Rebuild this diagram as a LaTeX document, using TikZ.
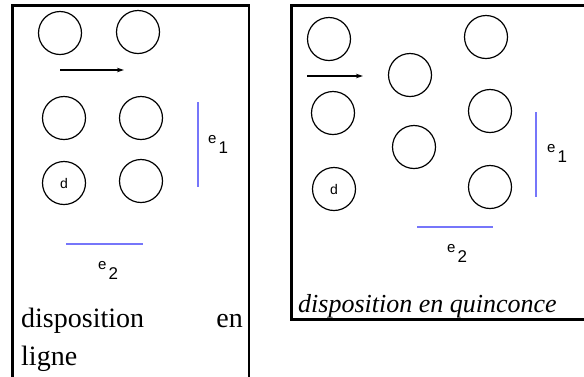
\documentclass[tikz,border=0pt]{standalone}
\usepackage{fontspec}
\setmainfont{Liberation Serif}
\setsansfont{Liberation Sans}
\usetikzlibrary{arrows.meta,positioning}
\definecolor{DimBlue}{RGB}{118,118,250}
\tikzset{
  tube/.style={draw=black,circle,minimum size=43pt,inner sep=0pt,line width=1.2pt,
               font=\sffamily\fontsize{14}{14}\selectfont},
  frame/.style={draw=black,line width=2.6pt},
  dimline/.style={draw=DimBlue,line width=1.4pt},
  arr/.style={-{Stealth[length=7pt,width=4.5pt]},black,line width=1.1pt},
  dimlabel/.style={font=\sffamily\fontsize{15}{15}\selectfont,inner sep=0pt},
  caption/.style={font=\fontsize{28}{28}\selectfont,inner sep=0pt},
  captionit/.style={font=\itshape\fontsize{26}{26}\selectfont,inner sep=0pt},
}
\newcommand{\dimtext}[1]{e\kern2pt\raisebox{-10pt}{\fontsize{17}{17}\selectfont #1}}

\begin{document}
\begin{tikzpicture}[x=1pt,y=-1pt]
  \useasboundingbox (0,0) rectangle (584,376);
  \clip (0,0) rectangle (584,376);
  % frames
  \draw[frame] (12.5,5.5) rectangle (249,395);
  \draw[frame] (291.5,5.5) rectangle (600,319.5);
  % en ligne
  \node[tube] (la1) at (60,33) {};
  \node[tube] (la2) at (138,32) {};
  \node[tube] (lb1) at (64,118) {};
  \node[tube] (lb2) at (141,118) {};
  \node[tube] (lc1) at (64,183) {d};
  \node[tube] (lc2) at (141,181) {};
  \coordinate (lflowA) at (60,70);
  \coordinate (lflowB) at (124,70);
  \draw[arr] (lflowA) -- (lflowB);
  \coordinate (le1top) at (198,102);
  \coordinate (le1bot) at (198,187);
  \draw[dimline] (le1top) -- (le1bot);
  \node[dimlabel,anchor=base west] (le1) at (208,143) {\dimtext{1}};
  \coordinate (le2left) at (66,244);
  \coordinate (le2right) at (143,244);
  \draw[dimline] (le2left) -- (le2right);
  \node[dimlabel,anchor=base west] (le2) at (98,269) {\dimtext{2}};
  \node[caption,anchor=base west] (lcapA) at (21,327) {disposition};
  \node[caption,anchor=base east] (lcapB) at (243,327) {en};
  \node[caption,anchor=base west] (lcapC) at (21,365) {ligne};
  % en quinconce
  \node[tube] (qa1) at (329,39) {};
  \node[tube] (qa2) at (410,75) {};
  \node[tube] (qa3) at (486,37) {};
  \node[tube] (qb1) at (333,113) {};
  \node[tube] (qb2) at (414,147) {};
  \node[tube] (qb3) at (490,111) {};
  \node[tube] (qc1) at (334,189) {d};
  \node[tube] (qc3) at (490,187) {};
  \coordinate (qflowA) at (307,76);
  \coordinate (qflowB) at (363,76);
  \draw[arr] (qflowA) -- (qflowB);
  \coordinate (qe1top) at (536,112);
  \coordinate (qe1bot) at (536,197);
  \draw[dimline] (qe1top) -- (qe1bot);
  \node[dimlabel,anchor=base west] (qe1) at (547,152) {\dimtext{1}};
  \coordinate (qe2left) at (417,227);
  \coordinate (qe2right) at (493,227);
  \draw[dimline] (qe2left) -- (qe2right);
  \node[dimlabel,anchor=base west] (qe2) at (447,252) {\dimtext{2}};
  \node[captionit,anchor=base west] (qcap) at (298,312) {disposition en quinconce};
\end{tikzpicture}
\end{document}
